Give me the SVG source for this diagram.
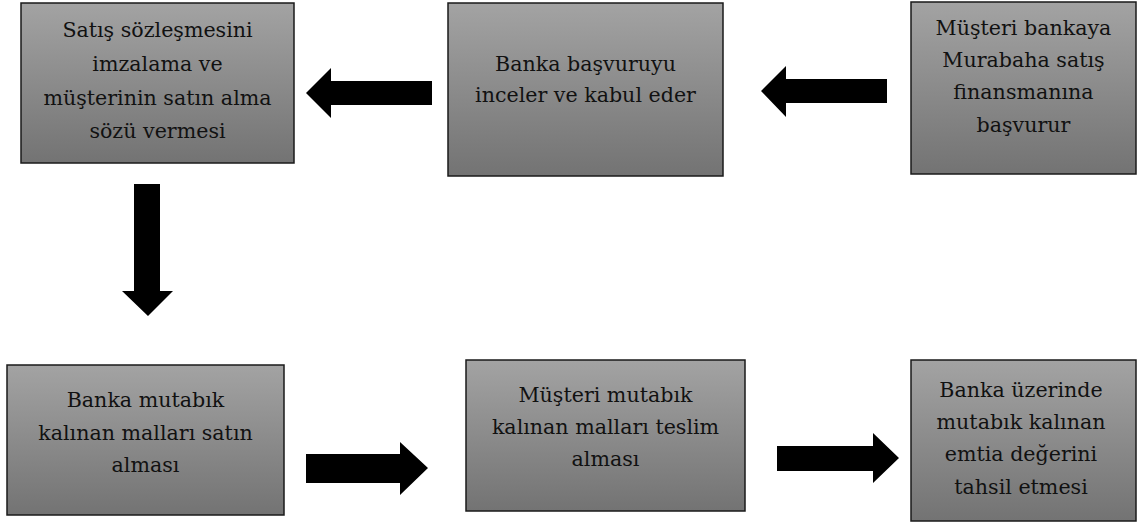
<svg xmlns="http://www.w3.org/2000/svg" width="1137" height="525" viewBox="0 0 1137 525">
  <defs>
    <linearGradient id="boxFill" x1="0" y1="0" x2="0" y2="1">
      <stop offset="0" stop-color="#a3a3a3"/>
      <stop offset="1" stop-color="#737373"/>
    </linearGradient>
  </defs>
  <style>
    .box { fill: url(#boxFill); stroke: #1a1a1a; stroke-width: 1.5; }
    .lbl { font-family: "DejaVu Serif", serif; font-size: 20.6px; fill: #111; text-anchor: middle; }
    .arrow { fill: #000; }
  </style>
  <rect width="1137" height="525" fill="#fff"/>

  <g id="node-satis">
    <rect class="box" x="21" y="3" width="273" height="160"/>
    <text class="lbl" x="157.5" y="37">Satış sözleşmesini</text>
    <text class="lbl" x="157.5" y="71">imzalama ve</text>
    <text class="lbl" x="157.5" y="105">müşterinin satın alma</text>
    <text class="lbl" x="157.5" y="138">sözü vermesi</text>
  </g>

  <g id="node-inceleme">
    <rect class="box" x="448" y="3" width="275" height="173"/>
    <text class="lbl" x="585.5" y="71">Banka başvuruyu</text>
    <text class="lbl" x="585.5" y="102">inceler ve kabul eder</text>
  </g>

  <g id="node-basvuru">
    <rect class="box" x="911" y="2" width="225" height="172"/>
    <text class="lbl" x="1023.5" y="35">Müşteri bankaya</text>
    <text class="lbl" x="1023.5" y="67">Murabaha satış</text>
    <text class="lbl" x="1023.5" y="99">finansmanına</text>
    <text class="lbl" x="1023.5" y="132">başvurur</text>
  </g>

  <g id="node-satin-alma">
    <rect class="box" x="7" y="365" width="277" height="150"/>
    <text class="lbl" x="145.5" y="407">Banka mutabık</text>
    <text class="lbl" x="145.5" y="440">kalınan malları satın</text>
    <text class="lbl" x="145.5" y="472">alması</text>
  </g>

  <g id="node-teslim">
    <rect class="box" x="466" y="360" width="279" height="151"/>
    <text class="lbl" x="605.5" y="402">Müşteri mutabık</text>
    <text class="lbl" x="605.5" y="434">kalınan malları teslim</text>
    <text class="lbl" x="605.5" y="466">alması</text>
  </g>

  <g id="node-tahsil">
    <rect class="box" x="911" y="360" width="225" height="161"/>
    <text class="lbl" x="1021" y="397">Banka üzerinde</text>
    <text class="lbl" x="1021" y="429">mutabık kalınan</text>
    <text class="lbl" x="1021" y="461">emtia değerini</text>
    <text class="lbl" x="1021" y="494">tahsil etmesi</text>
  </g>

  <g id="connectors">
    <!-- basvuru -> inceleme -->
    <polygon class="arrow" points="887,79 786,79 786,66 761,91 786,117 786,103 887,103"/>
    <!-- inceleme -> satis -->
    <polygon class="arrow" points="432,81 331,81 331,68 306,93 331,118 331,105 432,105"/>
    <!-- satis -> satin-alma -->
    <polygon class="arrow" points="134,184 160,184 160,291 173,291 148,316 122,291 134,291"/>
    <!-- satin-alma -> teslim -->
    <polygon class="arrow" points="306,454 400,454 400,442 428,468 400,495 400,483 306,483"/>
    <!-- teslim -> tahsil -->
    <polygon class="arrow" points="777,446 873,446 873,433 899,458 873,483 873,471 777,471"/>
  </g>
</svg>
